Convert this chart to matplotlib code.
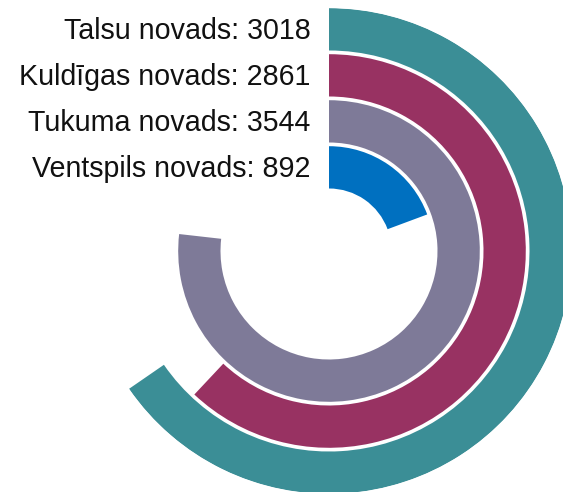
import numpy as np
import matplotlib
matplotlib.use("Agg")
import matplotlib.pyplot as plt

# Data (outer ring first)
categories = ["Talsu novads", "Kuldīgas novads", "Tukuma novads", "Ventspils novads"]
values = [3018, 2861, 3544, 892]
colors = ["#3B8E96", "#983262", "#7E7A98", "#0070C0"]

full_circle_value = 4615  # value corresponding to 360 degrees

W, H = 563, 492
fig = plt.figure(figsize=(W / 100, H / 100), dpi=100)
fig.patch.set_facecolor("white")

cx, cy = 329, 251          # center in pixels (from top-left)
R = 243                    # axes radius in pixels (data units = pixels)
ax = fig.add_axes([(cx - R) / W, (H - cy - R) / H, 2 * R / W, 2 * R / H],
                  projection="polar")
ax.set_theta_zero_location("N")
ax.set_theta_direction(-1)
ax.set_ylim(0, R)
ax.set_axis_off()

inner_start = 62.5
pitch = 46.0
thickness = 42.3
n = len(values)
for i, (cat, val, col) in enumerate(zip(categories, values, colors)):
    ring_idx = n - 1 - i           # outermost = Talsu
    bottom = inner_start + ring_idx * pitch
    span = np.deg2rad(val / full_circle_value * 360.0)
    ax.bar(0, thickness, width=span, bottom=bottom, align="edge",
           color=col, edgecolor="none", linewidth=0)
    mid = bottom + thickness / 2
    ax.annotate(f"{cat}: {val}", xy=(0, mid), xycoords="data",
                xytext=(-13.3, -7.3), textcoords="offset points",
                ha="right", va="baseline", fontsize=20.6,
                family=["Liberation Sans", "DejaVu Sans"], color="#111111",
                annotation_clip=False)

fig.savefig("out.png", dpi=100, facecolor="white")
